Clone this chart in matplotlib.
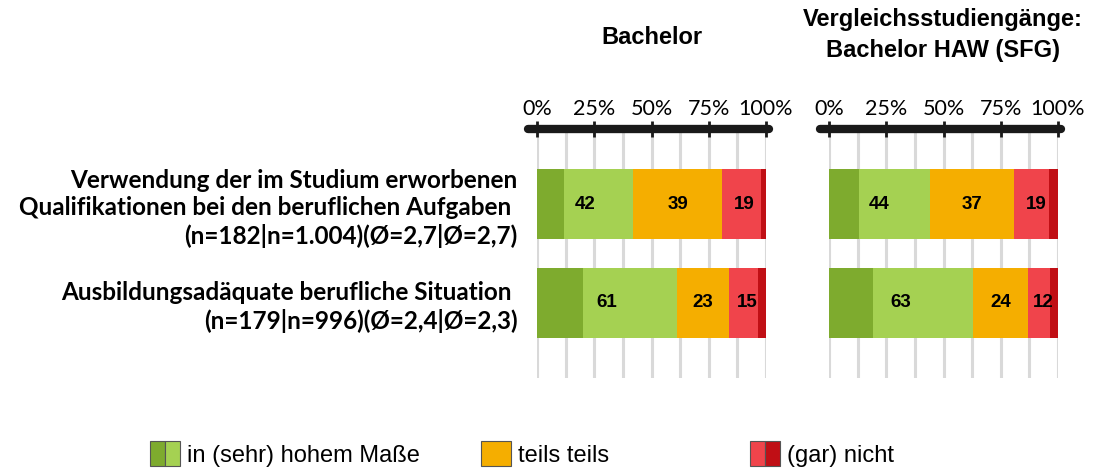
import numpy as np
import matplotlib.pyplot as plt
from matplotlib.patches import Patch
from matplotlib.legend_handler import HandlerTuple
from matplotlib.lines import Line2D

# Daten
categories = [
    "Verwendung der im Studium erworbenen\nQualifikationen bei den beruflichen Aufgaben \n(n=182|n=1.004)(Ø=2,7|Ø=2,7)",
    "Ausbildungsadäquate berufliche Situation \n(n=179|n=996)(Ø=2,4|Ø=2,3)",
]
panel_titles = ["Bachelor", "Vergleichsstudiengänge:\nBachelor HAW (SFG)"]
legend_labels = ["in (sehr) hohem Maße", "teils teils", "(gar) nicht"]
tick_labels = ["0%", "25%", "50%", "75%", "100%"]

# Bachelor
ba_sehr_hoch = [12, 20]
ba_hoch = [30, 41]
ba_teils = [39, 23]
ba_nicht = [17, 12.5]
ba_gar_nicht = [2, 3.5]
ba_labels = [[42, 39, 19], [61, 23, 15]]

# Vergleichsstudiengänge
vg_sehr_hoch = [13, 19]
vg_hoch = [31, 44]
vg_teils = [37, 24]
vg_nicht = [15, 9.5]
vg_gar_nicht = [4, 3.5]
vg_labels = [[44, 37, 19], [63, 24, 12]]

c_dgreen = '#7eab2e'
c_lgreen = '#a5d152'
c_orange = '#f5ae00'
c_lred = '#f0444b'
c_dred = '#c00f15'

plt.rcParams['font.family'] = ['Liberation Sans', 'DejaVu Sans']

fig = plt.figure(figsize=(11.03, 4.70), dpi=100)
ax1 = fig.add_axes([537/1103, 92/470, 229/1103, 249/470])
ax2 = fig.add_axes([829/1103, 92/470, 229/1103, 249/470])

y = np.arange(len(categories))
panels = [
    (ax1, [ba_sehr_hoch, ba_hoch, ba_teils, ba_nicht, ba_gar_nicht], ba_labels),
    (ax2, [vg_sehr_hoch, vg_hoch, vg_teils, vg_nicht, vg_gar_nicht], vg_labels),
]
colors = [c_dgreen, c_lgreen, c_orange, c_lred, c_dred]

for ax, series, labels in panels:
    left = np.zeros(len(categories))
    for vals, col in zip(series, colors):
        ax.barh(y, vals, left=left, height=0.71, color=col, zorder=2)
        left += np.array(vals)
    # Beschriftungen mittig auf zusammengefassten Gruppen
    s = [np.array(v, dtype=float) for v in series]
    groups = [s[0] + s[1], s[2], s[3] + s[4]]
    start = np.zeros(len(categories))
    for gi, g in enumerate(groups):
        for i in range(len(categories)):
            ax.text(start[i] + g[i] / 2, y[i], str(labels[i][gi]), ha='center', va='center',
                    fontsize=13.5, fontweight='bold', color='black', zorder=3)
        start += g

    ax.set_xlim(0, 100)
    ax.set_ylim(1.758, -0.758)
    ax.set_xticks([0, 25, 50, 75, 100])
    ax.set_xticklabels(tick_labels, fontsize=15.5, family=['Lato', 'DejaVu Sans'])
    ax.set_xticks(np.arange(0, 101, 12.5), minor=True)
    ax.xaxis.tick_top()
    ax.tick_params(axis='x', which='major', direction='inout', length=12, width=2, pad=1,
                   color='#1a1a1a')
    ax.tick_params(axis='x', which='minor', length=0)
    ax.grid(axis='x', which='both', color='#d9d9d9', linewidth=2.2, zorder=0)
    for sp in ax.spines.values():
        sp.set_visible(False)
    ax.add_line(Line2D([-0.04, 1.015], [1, 1], transform=ax.transAxes, color='#1a1a1a',
                       linewidth=6, solid_capstyle='round', clip_on=False, zorder=4))
    ax.set_yticks(y)
    ax.set_yticklabels([])
    ax.tick_params(axis='y', length=0)

ax1.set_yticklabels(categories, fontsize=17.5, fontweight='bold', family=['Lato', 'DejaVu Sans'],
                    linespacing=1.25)
ax1.tick_params(axis='y', pad=14)

fig.text(652/1103, 1 - 38/470, panel_titles[0], ha='center', va='center', fontsize=17, fontweight='bold')
fig.text(943/1103, 1 - 35/470, panel_titles[1], ha='center', va='center', fontsize=17, fontweight='bold',
         linespacing=1.45)

# Legende
handles = [
    (Patch(fc=c_dgreen, ec='#555555', lw=0.8), Patch(fc=c_lgreen, ec='#555555', lw=0.8)),
    (Patch(fc=c_orange, ec='#555555', lw=0.8),),
    (Patch(fc=c_lred, ec='#555555', lw=0.8), Patch(fc=c_dred, ec='#555555', lw=0.8)),
]
leg_x = [150, 481, 750]
for h, lab, lx in zip(handles, legend_labels, leg_x):
    leg = fig.legend([h], [lab], loc='center left', bbox_to_anchor=(lx/1103, 1 - 454/470),
                     frameon=False, borderpad=0, borderaxespad=0, fontsize=17,
                     handlelength=1.25, handleheight=1.2, handletextpad=0.3,
                     handler_map={tuple: HandlerTuple(ndivide=None, pad=0)})

fig.savefig('out.png', dpi=100)
